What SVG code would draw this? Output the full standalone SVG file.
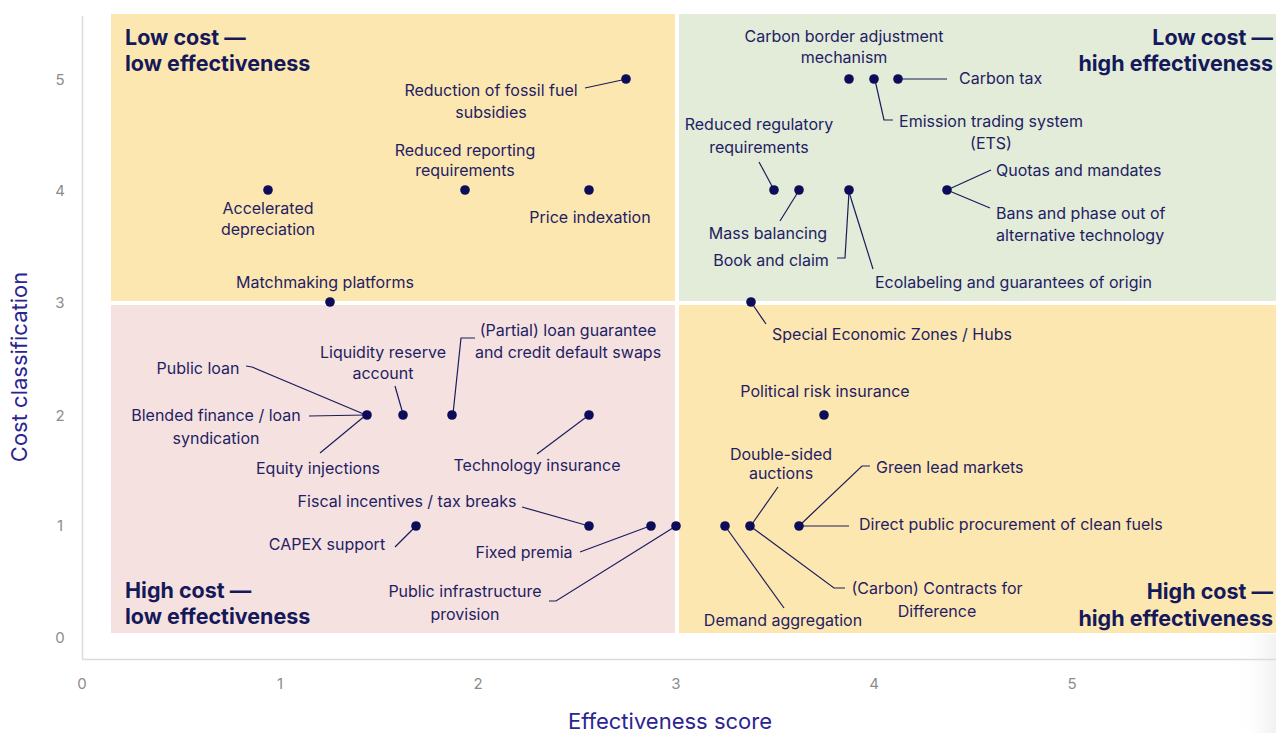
<svg xmlns="http://www.w3.org/2000/svg" width="1276" height="733" viewBox="0 0 1276 733">
<defs>
<style>
.lbl{font-family:Inter,"Liberation Sans",sans-serif;font-size:16px;fill:#1f2163}
.ttl{font-family:Inter,"Liberation Sans",sans-serif;font-size:21.5px;font-weight:700;fill:#15195a}
.tick{font-family:Inter,"Liberation Sans",sans-serif;font-size:15px;fill:#8c8c8c}
.axt{font-family:Inter,"Liberation Sans",sans-serif;font-size:22px;fill:#2c2590}
.dot{fill:#0c0c58}
.ln{fill:none;stroke:#1a1c5c;stroke-width:1.2}
.m{text-anchor:middle}
.e{text-anchor:end}
</style>
<linearGradient id="fade" x1="0" y1="0" x2="1" y2="0">
<stop offset="0" stop-color="#ffffff" stop-opacity="0"/>
<stop offset="1" stop-color="#f1f1f1"/>
</linearGradient>
</defs>
<rect width="1276" height="733" fill="#ffffff"/>
<rect x="1235" y="634" width="41" height="99" fill="url(#fade)"/>

<g id="quadrants">
<rect x="111" y="14" width="564" height="287" fill="#fde7b1"/>
<rect x="679" y="14" width="597" height="287" fill="#e2ecd9"/>
<rect x="111" y="305" width="564" height="328" fill="#f5e2e0"/>
<rect x="679" y="305" width="597" height="328" fill="#fde7b1"/>
</g>

<g id="axes">
<line x1="82.5" y1="16" x2="82.5" y2="659" stroke="#dcdcdc" stroke-width="1.5"/>
<line x1="82" y1="659.5" x2="1276" y2="659.5" stroke="#dcdcdc" stroke-width="1.5"/>
<g class="tick">
<text x="60" y="85" class="m">5</text>
<text x="60" y="196" class="m">4</text>
<text x="60" y="308" class="m">3</text>
<text x="60" y="421" class="m">2</text>
<text x="60" y="531" class="m">1</text>
<text x="60" y="643" class="m">0</text>
<text x="82" y="689" class="m">0</text>
<text x="280" y="689" class="m">1</text>
<text x="478" y="689" class="m">2</text>
<text x="676" y="689" class="m">3</text>
<text x="874" y="689" class="m">4</text>
<text x="1072" y="689" class="m">5</text>
</g>
<text class="axt m" transform="translate(27,367) rotate(-90)">Cost classification</text>
<text class="axt m" x="670" y="729">Effectiveness score</text>
</g>

<g id="quadrant-titles">
<text class="ttl" x="125" y="45">Low cost —</text>
<text class="ttl" x="125" y="71">low effectiveness</text>
<text class="ttl e" x="1273" y="45">Low cost —</text>
<text class="ttl e" x="1273" y="71">high effectiveness</text>
<text class="ttl" x="125" y="598">High cost —</text>
<text class="ttl" x="125" y="624">low effectiveness</text>
<text class="ttl e" x="1273" y="599">High cost —</text>
<text class="ttl e" x="1273" y="626">high effectiveness</text>
</g>

<g id="connectors">
<polyline class="ln" points="585,88 622,80"/>
<polyline class="ln" points="875,80 884,120 893,120"/>
<polyline class="ln" points="898,79 947,79"/>
<polyline class="ln" points="759,162 773,188"/>
<polyline class="ln" points="780,221 798,192"/>
<polyline class="ln" points="837,258 845,258 849,192"/>
<polyline class="ln" points="849,192 873,269"/>
<polyline class="ln" points="947,190 991,170"/>
<polyline class="ln" points="947,190 990,208"/>
<polyline class="ln" points="751,302 766,324"/>
<polyline class="ln" points="778,487 752,524"/>
<polyline class="ln" points="725,526 784,608"/>
<polyline class="ln" points="750,526 834,588 845,588"/>
<polyline class="ln" points="799,526 862,466 870,466"/>
<polyline class="ln" points="799,526 849,526"/>
<polyline class="ln" points="246,366 252,367 366,415"/>
<polyline class="ln" points="309,416 366,415"/>
<polyline class="ln" points="320,453 366,415"/>
<polyline class="ln" points="395,386 403,414"/>
<polyline class="ln" points="475,338 461,338 453,414"/>
<polyline class="ln" points="537,454 589,415"/>
<polyline class="ln" points="522,507 589,526"/>
<polyline class="ln" points="395,547 415,527"/>
<polyline class="ln" points="580,552 650,526"/>
<polyline class="ln" points="549,601 556,601 676,526"/>
</g>

<g id="n-fossil"><circle class="dot" cx="626" cy="79" r="4.8"/><text class="lbl m" x="491" y="96">Reduction of fossil fuel</text><text class="lbl m" x="491" y="118">subsidies</text></g>
<g id="n-reporting"><circle class="dot" cx="465" cy="190" r="4.8"/><text class="lbl m" x="465" y="156">Reduced reporting</text><text class="lbl m" x="465" y="176">requirements</text></g>
<g id="n-price"><circle class="dot" cx="589" cy="190" r="4.8"/><text class="lbl m" x="590" y="223">Price indexation</text></g>
<g id="n-accel"><circle class="dot" cx="268" cy="190" r="4.8"/><text class="lbl m" x="268" y="214">Accelerated</text><text class="lbl m" x="268" y="235">depreciation</text></g>
<g id="n-match"><circle class="dot" cx="330" cy="302" r="4.8"/><text class="lbl m" x="325" y="288">Matchmaking platforms</text></g>

<g id="n-cbam"><circle class="dot" cx="849" cy="79" r="4.8"/><text class="lbl m" x="844" y="42">Carbon border adjustment</text><text class="lbl m" x="844" y="63">mechanism</text></g>
<g id="n-ets"><circle class="dot" cx="874" cy="79" r="4.8"/><text class="lbl m" x="991" y="127">Emission trading system</text><text class="lbl m" x="991" y="149">(ETS)</text></g>
<g id="n-ctax"><circle class="dot" cx="898" cy="79" r="4.8"/><text class="lbl" x="959" y="84">Carbon tax</text></g>
<g id="n-regulatory"><circle class="dot" cx="774" cy="190" r="4.8"/><text class="lbl m" x="759" y="130">Reduced regulatory</text><text class="lbl m" x="759" y="153">requirements</text></g>
<g id="n-mass"><circle class="dot" cx="799" cy="190" r="4.8"/><text class="lbl m" x="768" y="239">Mass balancing</text></g>
<g id="n-book"><circle class="dot" cx="849" cy="190" r="4.8"/><text class="lbl m" x="771" y="266">Book and claim</text><text class="lbl" x="875" y="288">Ecolabeling and guarantees of origin</text></g>
<g id="n-quotas"><circle class="dot" cx="947" cy="190" r="4.8"/><text class="lbl" x="996" y="176">Quotas and mandates</text><text class="lbl" x="996" y="219">Bans and phase out of</text><text class="lbl" x="996" y="241">alternative technology</text></g>
<g id="n-sez"><circle class="dot" cx="751" cy="302" r="4.8"/><text class="lbl" x="772" y="340">Special Economic Zones / Hubs</text></g>

<g id="n-political"><circle class="dot" cx="824" cy="415" r="4.8"/><text class="lbl m" x="825" y="397">Political risk insurance</text></g>
<g id="n-demand"><circle class="dot" cx="725" cy="526" r="4.8"/><text class="lbl m" x="783" y="626">Demand aggregation</text></g>
<g id="n-auctions"><circle class="dot" cx="750" cy="526" r="4.8"/><text class="lbl m" x="781" y="460">Double-sided</text><text class="lbl m" x="781" y="479">auctions</text><text class="lbl m" x="937" y="594">(Carbon) Contracts for</text><text class="lbl m" x="937" y="617">Difference</text></g>
<g id="n-green"><circle class="dot" cx="799" cy="526" r="4.8"/><text class="lbl" x="876" y="473">Green lead markets</text><text class="lbl" x="859" y="530">Direct public procurement of clean fuels</text></g>

<g id="n-loans"><circle class="dot" cx="367" cy="415" r="4.8"/><text class="lbl m" x="198" y="374">Public loan</text><text class="lbl m" x="216" y="421">Blended finance / loan</text><text class="lbl m" x="216" y="444">syndication</text><text class="lbl m" x="318" y="474">Equity injections</text></g>
<g id="n-liquidity"><circle class="dot" cx="403" cy="415" r="4.8"/><text class="lbl m" x="383" y="358">Liquidity reserve</text><text class="lbl m" x="383" y="379">account</text></g>
<g id="n-partial"><circle class="dot" cx="452" cy="415" r="4.8"/><text class="lbl m" x="568" y="336">(Partial) loan guarantee</text><text class="lbl m" x="568" y="358">and credit default swaps</text></g>
<g id="n-techins"><circle class="dot" cx="589" cy="415" r="4.8"/><text class="lbl m" x="537" y="471">Technology insurance</text></g>
<g id="n-fiscal"><circle class="dot" cx="589" cy="526" r="4.8"/><text class="lbl m" x="407" y="507">Fiscal incentives / tax breaks</text></g>
<g id="n-capex"><circle class="dot" cx="416" cy="526" r="4.8"/><text class="lbl m" x="327" y="550">CAPEX support</text></g>
<g id="n-premia"><circle class="dot" cx="651" cy="526" r="4.8"/><text class="lbl m" x="524" y="558">Fixed premia</text></g>
<g id="n-infra"><circle class="dot" cx="676" cy="526" r="4.8"/><text class="lbl m" x="465" y="597">Public infrastructure</text><text class="lbl m" x="465" y="620">provision</text></g>
</svg>
